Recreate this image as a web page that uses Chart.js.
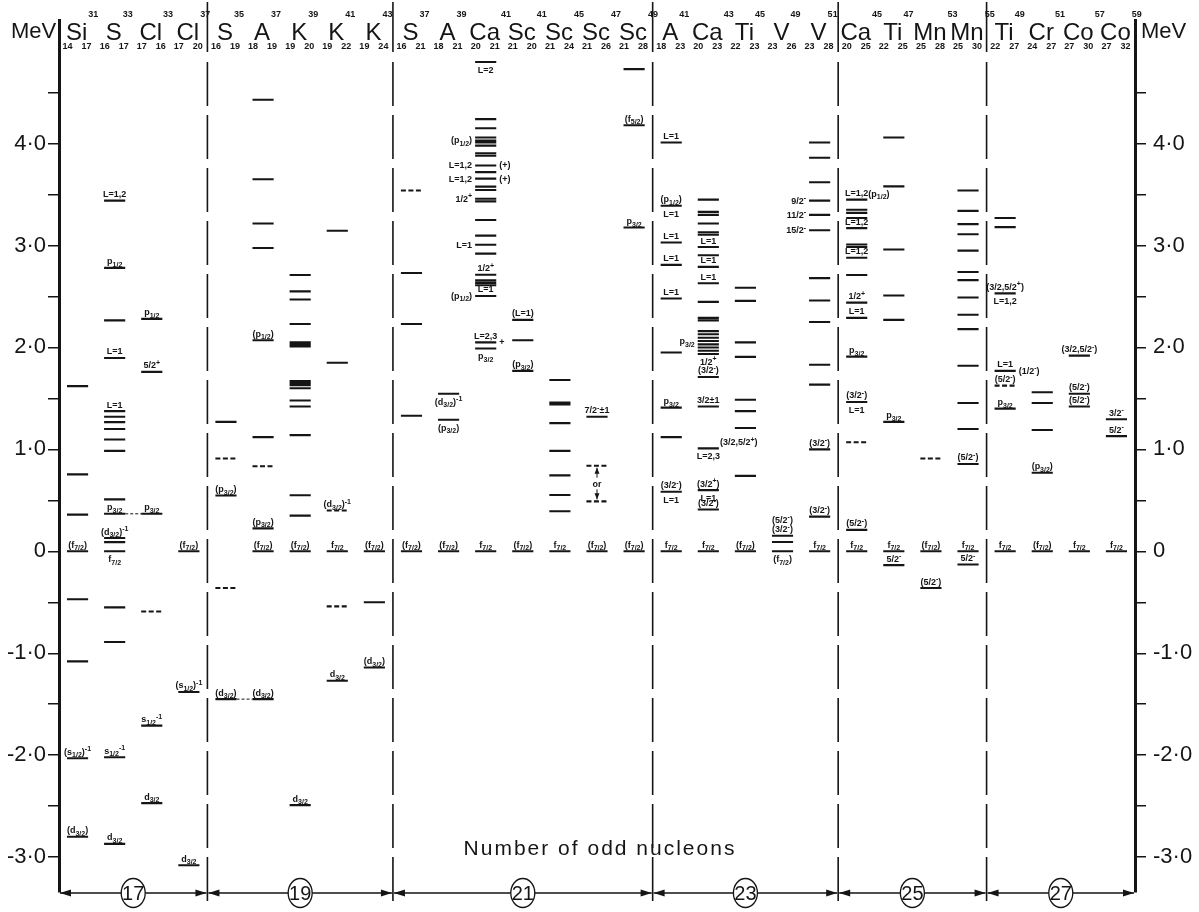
<!DOCTYPE html>
<html lang="en">
  <head>
    <meta charset="UTF-8" />
    <title>Levels of odd-nucleon nuclei</title>
    <script src="https://cdn.jsdelivr.net/npm/chart.js@4.4.0/dist/chart.umd.min.js"></script>
    <style>
      html, body { margin: 0; padding: 0; background: #fff; }
      #wrap { width: 1199px; height: 912px; position: relative; }
    </style>
  </head>
  <body>
    <div id="wrap"><canvas id="chart"></canvas></div>
    <script>
      // columns, left to right
      var ids = ['si31', 's33', 'cl33', 'cl37', 's35', 'a37', 'k39', 'k41', 'k43', 's37', 'a39', 'ca41', 'sc41', 'sc45', 'sc47', 'sc49', 'a41', 'ca43', 'ti45', 'v49', 'v51', 'ca45', 'ti47', 'mn53', 'mn55', 'ti49', 'cr51', 'co57', 'co59'];
      var symbols = ['Si', 'S', 'Cl', 'Cl', 'S', 'A', 'K', 'K', 'K', 'S', 'A', 'Ca', 'Sc', 'Sc', 'Sc', 'Sc', 'A', 'Ca', 'Ti', 'V', 'V', 'Ca', 'Ti', 'Mn', 'Mn', 'Ti', 'Cr', 'Co', 'Co'];
      var massNumbers = [31, 33, 33, 37, 35, 37, 39, 41, 43, 37, 39, 41, 41, 45, 47, 49, 41, 43, 45, 49, 51, 45, 47, 53, 55, 49, 51, 57, 59];
      var protonCounts = [14, 16, 17, 17, 16, 18, 19, 19, 19, 16, 18, 20, 21, 21, 21, 21, 18, 20, 22, 23, 23, 20, 22, 25, 25, 22, 24, 27, 27];
      var neutronCounts = [17, 17, 16, 20, 19, 19, 20, 22, 24, 21, 21, 21, 20, 24, 26, 28, 23, 23, 23, 26, 28, 25, 25, 28, 30, 27, 27, 30, 32];
      var oddNucleons = [17, 19, 21, 23, 25, 27];
      var groupSizes = [4, 5, 7, 5, 4, 4];
      var tickValues = [-3, -2.5, -2, -1.5, -1, -0.5, 0, 0.5, 1, 1.5, 2, 2.5, 3, 3.5, 4, 4.5];

      // level energies (MeV) relative to the f7/2 state
      var si31 = [1.62, 0.755, 0.36, 0, -0.47, -1.08, -2.03, -2.8];
      var s33 = [3.44, 2.78, 2.265, 1.897, 1.375, 1.32, 1.267, 1.2, 1.097, 0.985, 0.51, 0.368, 0.13, 0.09, 0, -0.55, -0.89, -2.02, -2.87];
      var cl33 = [2.28, 1.76, 0.368, -1.71, -2.47];
      var cl37 = [0, -1.38, -3.08];
      var s35 = [1.27, 0.547, -1.45];
      var a37 = [4.43, 3.65, 3.215, 2.975, 2.07, 1.12, 0.225, 0, -1.45];
      var k39 = [2.71, 2.55, 2.47, 2.23, 2.05, 2.03, 2.01, 1.67, 1.65, 1.63, 1.6, 1.48, 1.42, 1.14, 0.55, 0.35, 0, -2.49];
      var k41 = [3.145, 1.85, 0, -1.27];
      var k43 = [0, -0.5, -1.14];
      var s37 = [2.73, 2.23, 1.33, 0];
      var a39 = [1.545, 1.29, 0];
      var ca41 = [4.8, 4.24, 4.15, 4.06, 4.03, 4.01, 3.98, 3.905, 3.88, 3.785, 3.72, 3.656, 3.577, 3.544, 3.458, 3.433, 3.25, 3.097, 3.007, 2.92, 2.713, 2.658, 2.633, 2.61, 2.505, 2.05, 1.99, 0];
      var sc41 = [2.27, 2.07, 1.77, 0];
      var sc45 = [1.68, 1.46, 1.44, 1.257, 0.985, 0.745, 0.553, 0.393, 0];
      var sc47 = [1.32, 0];
      var sc49 = [4.73, 4.18, 3.176, 0];
      var a41 = [4.01, 3.39, 3.03, 2.81, 2.48, 1.95, 1.41, 1.12, 0.585, 0];
      var ca43 = [3.45, 3.33, 3.3, 3.215, 3.13, 3.105, 2.985, 2.905, 2.79, 2.63, 2.447, 2.29, 2.265, 2.16, 2.13, 2.095, 2.063, 2.03, 2, 1.967, 1.936, 1.71, 1.42, 1.01, 0.6, 0.41, 0];
      var ti45 = [2.585, 2.457, 2.05, 1.907, 1.487, 1.375, 1.21, 0.74, 0];
      var v49 = [0.153, 0.091, 0];
      var v51 = [4.01, 3.86, 3.62, 3.44, 3.3, 3.15, 2.68, 2.46, 2.25, 1.83, 1.635, 1, 0.34, 0];
      var ca45 = [3.45, 3.35, 3.32, 3.27, 3.17, 3.01, 2.985, 2.88, 2.71, 2.44, 2.29, 1.91, 1.465, 0.21, 0];
      var ti47 = [4.06, 3.58, 2.96, 2.51, 2.27, 1.27, 0, -0.135];
      var mn53 = [0, -0.36];
      var mn55 = [3.54, 3.34, 3.21, 3.11, 2.95, 2.74, 2.66, 2.49, 2.32, 2.18, 1.82, 1.455, 1.2, 0.857, 0, -0.13];
      var ti49 = [3.27, 3.18, 2.53, 1.77, 1.4, 0];
      var cr51 = [1.56, 1.455, 1.19, 0.77, 0];
      var co57 = [1.92, 1.545, 1.42, 0];
      var co59 = [1.295, 1.13, 0];

      // uncertain levels (drawn dashed)
      var tentativeLevels = [['cl33', -0.59], ['s35', 0.91], ['s35', -0.36], ['a37', 0.835], ['k41', 0.4], ['k41', -0.54], ['s37', 3.54], ['sc47', 0.84], ['sc47', 0.49], ['ca45', 1.07], ['mn53', 0.91], ['ti49', 1.625]];
      // analogue levels joined across columns
      var links = [['s33', 'cl33', 0.368], ['s35', 'a37', -1.45]];

      // level assignments
      var si31Tags = [[0, '(f_{7/2})'], [-2.03, '(s_{1/2})^{-1}'], [-2.8, '(d_{3/2})']];
      var s33Tags = [[3.44, 'L=1,2'], [2.78, 'p_{1/2}'], [1.897, 'L=1'], [1.375, 'L=1'], [0.368, 'p_{3/2}'], [0.13, '(d_{3/2})^{-1}'], [0, 'f_{7/2}'], [-2.02, 's_{1/2}^{-1}'], [-2.87, 'd_{3/2}']];
      var cl33Tags = [[2.28, 'p_{1/2}'], [1.76, '5/2^{+}'], [0.368, 'p_{3/2}'], [-1.71, 's_{1/2}^{-1}'], [-2.47, 'd_{3/2}']];
      var cl37Tags = [[0, '(f_{7/2})'], [-1.38, '(s_{1/2})^{-1}'], [-3.08, 'd_{3/2}']];
      var s35Tags = [[0.547, '(p_{3/2})'], [-1.45, '(d_{3/2})']];
      var a37Tags = [[2.07, '(p_{1/2})'], [0.225, '(p_{3/2})'], [0, '(f_{7/2})'], [-1.45, '(d_{3/2})']];
      var k39Tags = [[0, '(f_{7/2})'], [-2.49, 'd_{3/2}']];
      var k41Tags = [[0.4, '(d_{3/2})^{-1}'], [0, 'f_{7/2}'], [-1.27, 'd_{3/2}']];
      var k43Tags = [[0, '(f_{7/2})'], [-1.14, '(d_{3/2})']];
      var s37Tags = [[0, '(f_{7/2})']];
      var a39Tags = [[1.545, '(d_{3/2})^{-1}'], [1.29, '(p_{3/2})'], [0, '(f_{7/2})']];
      var ca41Tags = [[4.8, 'L=2'], [4.03, '(p_{1/2})'], [3.785, 'L=1,2'], [3.785, '(+)'], [3.656, 'L=1,2'], [3.656, '(+)'], [3.458, '1/2^{+}'], [3.007, 'L=1'], [2.713, '1/2^{+}'], [2.505, 'L=1'], [2.505, '(p_{1/2})'], [2.05, 'L=2,3'], [2.05, '+'], [1.99, 'p_{3/2}'], [0, 'f_{7/2}']];
      var sc41Tags = [[2.27, '(L=1)'], [1.77, '(p_{3/2})'], [0, '(f_{7/2})']];
      var sc45Tags = [[0, 'f_{7/2}']];
      var sc47Tags = [[1.32, '7/2^{-}±1'], [0, '(f_{7/2})']];
      var sc49Tags = [[4.18, '(f_{5/2})'], [3.176, 'p_{3/2}'], [0, '(f_{7/2})']];
      var a41Tags = [[4.01, 'L=1'], [3.39, '(p_{1/2})'], [3.39, 'L=1'], [3.03, 'L=1'], [2.81, 'L=1'], [2.48, 'L=1'], [1.41, 'p_{3/2}'], [0.585, '(3/2^{-})'], [0.585, 'L=1'], [0, 'f_{7/2}']];
      var ca43Tags = [[2.985, 'L=1'], [2.79, 'L=1'], [2.63, 'L=1'], [2.063, 'p_{3/2}'], [1.936, '1/2^{+}'], [1.71, '(3/2^{-})'], [1.42, '3/2±1'], [1.01, 'L=2,3'], [1.01, '(3/2,5/2^{+})'], [0.6, '(3/2^{+})'], [0.6, 'L=1'], [0.41, '(3/2^{-})'], [0, 'f_{7/2}']];
      var ti45Tags = [[0, '(f_{7/2})']];
      var v49Tags = [[0.153, '(3/2^{-})'], [0.153, '(5/2^{-})'], [0, '(f_{7/2})']];
      var v51Tags = [[3.44, '9/2^{-}'], [3.3, '11/2^{-}'], [3.15, '15/2^{-}'], [1, '(3/2^{-})'], [0.34, '(3/2^{-})'], [0, 'f_{7/2}']];
      var ca45Tags = [[3.45, 'L=1,2'], [3.45, '(p_{1/2})'], [3.17, 'L=1,2'], [2.88, 'L=1,2'], [2.44, '1/2^{+}'], [2.29, 'L=1'], [1.91, 'p_{3/2}'], [1.465, '(3/2^{-})'], [1.465, 'L=1'], [0.21, '(5/2^{-})'], [0, 'f_{7/2}']];
      var ti47Tags = [[1.27, 'p_{3/2}'], [0, 'f_{7/2}'], [-0.135, '5/2^{-}']];
      var mn53Tags = [[0, '(f_{7/2})'], [-0.36, '(5/2^{-})']];
      var mn55Tags = [[0.857, '(5/2^{-})'], [0, 'f_{7/2}'], [-0.13, '5/2^{-}']];
      var ti49Tags = [[2.53, '(3/2,5/2^{+})'], [2.53, 'L=1,2'], [1.77, 'L=1'], [1.77, '(1/2^{-})'], [1.625, '(5/2^{-})'], [1.4, 'p_{3/2}'], [0, 'f_{7/2}']];
      var cr51Tags = [[0.77, '(p_{3/2})'], [0, '(f_{7/2})']];
      var co57Tags = [[1.92, '(3/2,5/2^{-})'], [1.545, '(5/2^{-})'], [1.42, '(5/2^{-})'], [0, 'f_{7/2}']];
      var co59Tags = [[1.295, '3/2^{-}'], [1.13, '5/2^{-}'], [0, 'f_{7/2}']];

      var firm = [si31, s33, cl33, cl37, s35, a37, k39, k41, k43, s37, a39, ca41, sc41, sc45, sc47, sc49, a41, ca43, ti45, v49, v51, ca45, ti47, mn53, mn55, ti49, cr51, co57, co59];
      var tags = [si31Tags, s33Tags, cl33Tags, cl37Tags, s35Tags, a37Tags, k39Tags, k41Tags, k43Tags, s37Tags, a39Tags, ca41Tags, sc41Tags, sc45Tags, sc47Tags, sc49Tags, a41Tags, ca43Tags, ti45Tags, v49Tags, v51Tags, ca45Tags, ti47Tags, mn53Tags, mn55Tags, ti49Tags, cr51Tags, co57Tags, co59Tags];

      // where a tag sits if not just above its level
      var tagSide = {
        's33|0|f_{7/2}': 'below',
        'a39|1.545|(d_{3/2})^{-1}': 'below',
        'a39|1.29|(p_{3/2})': 'below',
        'ca41|4.8|L=2': 'below',
        'ca41|4.03|(p_{1/2})': 'left',
        'ca41|3.785|L=1,2': 'left',
        'ca41|3.785|(+)': 'right',
        'ca41|3.656|L=1,2': 'left',
        'ca41|3.656|(+)': 'right',
        'ca41|3.458|1/2^{+}': 'left',
        'ca41|3.007|L=1': 'left',
        'ca41|2.505|(p_{1/2})': 'left',
        'ca41|2.05|+': 'right',
        'ca41|1.99|p_{3/2}': 'below',
        'a41|3.39|L=1': 'below',
        'a41|0.585|L=1': 'below',
        'ca43|2.063|p_{3/2}': 'left',
        'ca43|1.936|1/2^{+}': 'below',
        'ca43|1.01|L=2,3': 'below',
        'ca43|1.01|(3/2,5/2^{+})': 'rightup',
        'ca43|0.6|L=1': 'below',
        'v49|0.153|(5/2^{-})': 'above2',
        'v49|0|(f_{7/2})': 'below',
        'v51|3.44|9/2^{-}': 'left',
        'v51|3.3|11/2^{-}': 'left',
        'v51|3.15|15/2^{-}': 'left',
        'ca45|3.45|(p_{1/2})': 'rightup',
        'ca45|1.465|L=1': 'below',
        'ti49|2.53|L=1,2': 'below',
        'ti49|1.77|(1/2^{-})': 'right'
      };

      var HALF = 0.285;
      var INK = '#151515';

      function segments(list) {
        var pts = [];
        list.forEach(function (p) {
          pts.push({ x: p[0], y: p[2] }, { x: p[1], y: p[2] }, { x: p[1], y: null });
        });
        return pts;
      }

      var firmSegs = [];
      firm.forEach(function (levels, i) {
        levels.forEach(function (e) { firmSegs.push([i - HALF, i + HALF, e]); });
      });
      var tentSegs = tentativeLevels.map(function (t) {
        var i = ids.indexOf(t[0]);
        return [i - HALF, i + HALF, t[1]];
      });
      var linkSegs = links.map(function (l) {
        return [ids.indexOf(l[0]) + HALF, ids.indexOf(l[1]) - HALF, l[2]];
      });

      function tickText(v) {
        if (v % 1 !== 0) return '';
        if (v === 0) return '0';
        return v.toFixed(1).replace('.', '·');
      }

      var TAG = 'bold 9px "Liberation Sans", sans-serif';
      var TAG_SMALL = 'bold 7px "Liberation Sans", sans-serif';

      function drawRich(ctx, text, x, y, align) {
        var parts = [], re = /([_^])\{([^}]*)\}|[^_^]+/g, m, w = 0;
        while ((m = re.exec(text))) parts.push(m[1] ? { t: m[2], k: m[1] } : { t: m[0], k: '' });
        parts.forEach(function (p) {
          ctx.font = p.k ? TAG_SMALL : TAG;
          p.w = ctx.measureText(p.t).width;
          w += p.w;
        });
        var cx = align === 'center' ? x - w / 2 : align === 'right' ? x - w : x;
        ctx.textAlign = 'left';
        ctx.textBaseline = 'alphabetic';
        parts.forEach(function (p) {
          ctx.font = p.k ? TAG_SMALL : TAG;
          ctx.fillText(p.t, cx, y + (p.k === '_' ? 2.5 : p.k === '^' ? -3.5 : 0));
          cx += p.w;
        });
      }

      function arrowHead(ctx, x, y, dir) {
        ctx.beginPath();
        ctx.moveTo(x, y);
        ctx.lineTo(x - dir * 11, y - 3.5);
        ctx.lineTo(x - dir * 11, y + 3.5);
        ctx.closePath();
        ctx.fill();
      }

      var diagram = {
        id: 'diagram',
        afterDraw: function (chart) {
          var ctx = chart.ctx, xs = chart.scales.x, ys = chart.scales.y;
          var half = xs.getPixelForValue(HALF) - xs.getPixelForValue(0);
          ctx.save();
          ctx.fillStyle = INK;
          ctx.strokeStyle = INK;

          // header
          ctx.textBaseline = 'alphabetic';
          ctx.font = '22px "Liberation Sans", sans-serif';
          ctx.textAlign = 'left';
          ctx.fillText('MeV', 11, 38);
          ctx.fillText('MeV', 1141, 38);
          symbols.forEach(function (s, i) {
            var x = xs.getPixelForValue(i);
            ctx.font = '24px "Liberation Sans", sans-serif';
            ctx.textAlign = 'center';
            var w = ctx.measureText(s).width;
            ctx.fillText(s, x - 1, 40);
            ctx.font = 'bold 9px "Liberation Sans", sans-serif';
            ctx.textAlign = 'left';
            ctx.fillText(String(massNumbers[i]), x - 1 + w / 2 + 1, 17);
            ctx.textAlign = 'center';
            ctx.fillText(String(protonCounts[i]), x - 10, 49);
            ctx.fillText(String(neutronCounts[i]), x + 9, 49);
          });

          // group separators
          var bounds = [-0.5];
          groupSizes.forEach(function (n) { bounds.push(bounds[bounds.length - 1] + n); });
          ctx.lineWidth = 1.6;
          bounds.slice(1, -1).forEach(function (b) {
            var x = xs.getPixelForValue(b);
            ctx.setLineDash([]);
            ctx.beginPath(); ctx.moveTo(x, 2); ctx.lineTo(x, 52); ctx.stroke();
            ctx.setLineDash([44, 9]);
            ctx.beginPath(); ctx.moveTo(x, 62); ctx.lineTo(x, 906); ctx.stroke();
          });
          ctx.setLineDash([]);

          // number of odd nucleons, with arrows
          var ay = 893;
          ctx.lineWidth = 1.3;
          oddNucleons.forEach(function (n, g) {
            var x0 = xs.getPixelForValue(bounds[g]) + 1, x1 = xs.getPixelForValue(bounds[g + 1]) - 1;
            var cx = (x0 + x1) / 2;
            ctx.beginPath();
            ctx.moveTo(x0, ay); ctx.lineTo(cx - 12, ay);
            ctx.moveTo(cx + 12, ay); ctx.lineTo(x1, ay);
            ctx.stroke();
            arrowHead(ctx, x0, ay, -1);
            arrowHead(ctx, x1, ay, 1);
            ctx.beginPath();
            ctx.ellipse(cx, ay, 12, 14.5, 0, 0, Math.PI * 2);
            ctx.stroke();
            ctx.font = '20px "Liberation Sans", sans-serif';
            ctx.textAlign = 'center';
            ctx.textBaseline = 'middle';
            ctx.fillText(String(n), cx, ay + 1);
          });
          ctx.textBaseline = 'alphabetic';
          ctx.font = '21px "Liberation Sans", sans-serif';
          ctx.textAlign = 'center';
          ctx.letterSpacing = '2px';
          ctx.fillText('Number of odd nucleons', 600, 855);
          ctx.letterSpacing = '0px';

          // "or" between the two possible Sc47 levels
          var sc = ids.indexOf('sc47');
          var orLevels = tentativeLevels.filter(function (t) { return t[0] === 'sc47'; }).map(function (t) { return t[1]; });
          var ox = xs.getPixelForValue(sc), oy0 = ys.getPixelForValue(Math.max.apply(null, orLevels)), oy1 = ys.getPixelForValue(Math.min.apply(null, orLevels));
          ctx.lineWidth = 1;
          ctx.beginPath();
          ctx.moveTo(ox, oy0 + 2); ctx.lineTo(ox, oy0 + 12);
          ctx.moveTo(ox, oy1 - 12); ctx.lineTo(ox, oy1 - 2);
          ctx.stroke();
          ctx.beginPath(); ctx.moveTo(ox, oy0 + 2); ctx.lineTo(ox - 2.5, oy0 + 8); ctx.lineTo(ox + 2.5, oy0 + 8); ctx.fill();
          ctx.beginPath(); ctx.moveTo(ox, oy1 - 2); ctx.lineTo(ox - 2.5, oy1 - 8); ctx.lineTo(ox + 2.5, oy1 - 8); ctx.fill();
          drawRich(ctx, 'or', ox, (oy0 + oy1) / 2 + 3, 'center');

          // level assignments
          tags.forEach(function (list, i) {
            var x = xs.getPixelForValue(i);
            list.forEach(function (t) {
              var y = ys.getPixelForValue(t[0]);
              var side = tagSide[ids[i] + '|' + t[0] + '|' + t[1]] || 'above';
              if (side === 'above') drawRich(ctx, t[1], x, y - 3.5, 'center');
              else if (side === 'above2') drawRich(ctx, t[1], x, y - 13, 'center');
              else if (side === 'below') drawRich(ctx, t[1], x, y + 11, 'center');
              else if (side === 'left') drawRich(ctx, t[1], x - half - 3, y + 3, 'right');
              else if (side === 'right') drawRich(ctx, t[1], x + half + 3, y + 3, 'left');
              else if (side === 'rightup') drawRich(ctx, t[1], x + half + 1, y - 3, 'left');
            });
          });
          ctx.restore();
        }
      };

      function yAxis(position, width, pad) {
        return {
          type: 'linear',
          position: position,
          min: -3.34,
          max: 5.21,
          afterBuildTicks: function (s) { s.ticks = tickValues.map(function (v) { return { value: v }; }); },
          afterFit: function (s) { s.width = width; },
          border: { display: true, width: 3, color: INK },
          grid: { drawOnChartArea: false, drawTicks: true, tickLength: 11, tickWidth: 1.5, lineWidth: 1.5, tickColor: INK, color: INK },
          ticks: {
            callback: tickText,
            color: INK,
            padding: pad,
            autoSkip: false,
            font: { family: '"Liberation Sans", sans-serif', size: 22 }
          }
        };
      }

      var lineStyle = { showLine: true, pointRadius: 0, pointHoverRadius: 0, spanGaps: false, borderColor: INK, borderCapStyle: 'butt' };

      new Chart(document.getElementById('chart'), {
        type: 'scatter',
        data: {
          datasets: [
            Object.assign({ label: 'levels', data: segments(firmSegs), borderWidth: 2.1 }, lineStyle),
            Object.assign({ label: 'tentative', data: segments(tentSegs), borderWidth: 2.1, borderDash: [5, 2.5] }, lineStyle),
            Object.assign({ label: 'analogues', data: segments(linkSegs), borderWidth: 1, borderDash: [3, 2] }, lineStyle)
          ]
        },
        options: {
          responsive: true,
          maintainAspectRatio: false,
          animation: false,
          events: [],
          layout: { padding: { top: 8, bottom: 13, left: 0, right: 0 } },
          plugins: { legend: { display: false }, tooltip: { enabled: false } },
          scales: {
            x: { type: 'linear', min: -0.5, max: 28.5, display: false },
            y: yAxis('left', 59, 2),
            y2: yAxis('right', 64, 7)
          }
        },
        plugins: [diagram]
      });
    </script>
  </body>
</html>
